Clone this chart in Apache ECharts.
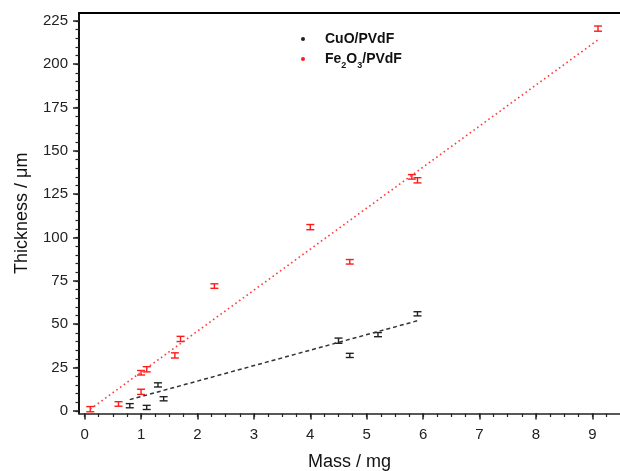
<!DOCTYPE html>
<html>
<head>
<meta charset="utf-8">
<script src="https://cdn.jsdelivr.net/npm/echarts@6/dist/echarts.min.js"></script>
<style>
    html, body { margin: 0; padding: 0; background: #fff; }
    #chart { width: 620px; height: 471px; }
</style>
</head>
<body>
<div id="chart"></div>
<script>
// Data (mass in mg, thickness in um, error = half bar height)
const cuoMass  = [0.8, 1.1, 1.3, 1.4, 4.5, 4.7, 5.2, 5.9];
const cuoThick = [3, 2, 15, 7, 40.5, 32, 44, 56];
const cuoErr   = [1.2, 1.2, 1.2, 1.2, 1.5, 1.2, 1.2, 1.2];

const feMass  = [0.1, 0.6, 1.0, 1.1, 1.0, 1.6, 1.7, 2.3, 4.0, 4.7, 5.8, 5.9, 9.1];
const feThick = [1, 4, 22, 24, 11, 32, 41.5, 72, 106, 86, 135, 133, 220.5];
const feErr   = [1.5, 1.3, 1.3, 1.5, 1.5, 1.5, 1.5, 1.3, 1.5, 1.3, 1.3, 1.5, 1.5];

// Linear fit lines, end points as drawn
const cuoFit = [[0.8, 6.5], [5.9, 52]];
const feFit  = [[0.1, 1], [9.1, 214]];

// Tick labels
const xTicks = [0, 1, 2, 3, 4, 5, 6, 7, 8, 9];
const yTicks = [0, 25, 50, 75, 100, 125, 150, 175, 200, 225];

const X_MIN = -0.1, X_MAX = 9.49;
const Y_MIN = -1.5, Y_MAX = 229.5;

// minor tick positions (axis decoration only)
const xMinor = [];
for (let i = 0; i * 0.25 <= X_MAX; i++) xMinor.push(i * 0.25);
const yMinor = [];
for (let v = 0; v <= 225; v += 5) yMinor.push(v);

const FONT = '"Liberation Sans", Arial, sans-serif';

function errorBar(params, api) {
    const x = api.value(0), y = api.value(1), e = api.value(2);
    const hi = api.coord([x, y + e]);
    const lo = api.coord([x, y - e]);
    const w = 4;
    const style = { stroke: api.visual('color'), lineWidth: 1.4 };
    return {
        type: 'group',
        children: [
            { type: 'line', shape: { x1: hi[0], y1: hi[1], x2: lo[0], y2: lo[1] }, style: style },
            { type: 'line', shape: { x1: hi[0] - w, y1: hi[1], x2: hi[0] + w, y2: hi[1] }, style: style },
            { type: 'line', shape: { x1: lo[0] - w, y1: lo[1], x2: lo[0] + w, y2: lo[1] }, style: style }
        ]
    };
}

const chart = echarts.init(document.getElementById('chart'), null, { renderer: 'canvas' });

const baseX = { type: 'value', min: X_MIN, max: X_MAX, gridIndex: 0, splitLine: { show: false } };
const baseY = { type: 'value', min: Y_MIN, max: Y_MAX, gridIndex: 0, splitLine: { show: false } };

chart.setOption({
    animation: false,
    backgroundColor: '#fff',
    grid: { left: 79, right: 0, top: 13, bottom: 57.5, containLabel: false, outerBoundsMode: 'none' },
    legend: {
        orient: 'vertical',
        left: 296,
        top: 27,
        itemWidth: 34,
        itemHeight: 4,
        itemGap: 6,
        data: [
            { name: 'CuO/PVdF', icon: 'circle' },
            { name: 'Fe2O3/PVdF', icon: 'circle' }
        ],
        formatter: function (name) {
            return name === 'Fe2O3/PVdF' ? 'Fe{s|2}O{s|3}/PVdF' : name;
        },
        textStyle: {
            fontFamily: FONT, fontSize: 14, fontWeight: 'bold', color: '#111',
            rich: { s: { fontFamily: FONT, fontSize: 9, fontWeight: 'bold', color: '#111', verticalAlign: 'bottom', lineHeight: 22 } }
        }
    },
    xAxis: [
        Object.assign({}, baseX, {
            position: 'bottom',
            name: 'Mass / mg', nameLocation: 'middle', nameGap: 40,
            nameTextStyle: { fontFamily: FONT, fontSize: 18, color: '#111' },
            axisLine: { onZero: false, lineStyle: { color: '#222', width: 1.5 } },
            axisTick: { show: true, inside: false, length: 6, customValues: xTicks, lineStyle: { color: '#222', width: 1.5 } },
            axisLabel: { customValues: xTicks, margin: 14, fontFamily: FONT, fontSize: 15, color: '#222' }
        }),
        Object.assign({}, baseX, {
            position: 'bottom',
            axisLine: { show: false, onZero: false },
            axisTick: { show: true, inside: false, length: 3.5, customValues: xMinor, lineStyle: { color: '#222', width: 1.2 } },
            axisLabel: { show: false }
        }),
        Object.assign({}, baseX, {
            position: 'top',
            axisLine: { onZero: false, lineStyle: { color: '#000', width: 2 } },
            axisTick: { show: false },
            axisLabel: { show: false }
        })
    ],
    yAxis: [
        Object.assign({}, baseY, {
            position: 'left',
            name: 'Thickness / \u03bcm', nameLocation: 'middle', nameGap: 48, nameRotate: 90,
            nameTextStyle: { fontFamily: FONT, fontSize: 18, color: '#111' },
            axisLine: { onZero: false, lineStyle: { color: '#111', width: 2 } },
            axisTick: { show: true, inside: false, length: 6, customValues: yTicks, lineStyle: { color: '#222', width: 1.5 } },
            axisLabel: { customValues: yTicks, margin: 11, fontFamily: FONT, fontSize: 15, color: '#222' }
        }),
        Object.assign({}, baseY, {
            position: 'left',
            axisLine: { show: false, onZero: false },
            axisTick: { show: true, inside: false, length: 3.5, customValues: yMinor, lineStyle: { color: '#222', width: 1.2 } },
            axisLabel: { show: false }
        })
    ],
    series: [
        {
            name: 'CuO fit', type: 'line', xAxisIndex: 0, yAxisIndex: 0,
            data: cuoFit, showSymbol: false, symbol: 'none', silent: true,
            lineStyle: { color: '#333', width: 1.5, type: [4, 3] }
        },
        {
            name: 'Fe2O3 fit', type: 'line', xAxisIndex: 0, yAxisIndex: 0,
            data: feFit, showSymbol: false, symbol: 'none', silent: true,
            lineStyle: { color: '#ff3b3b', width: 1.6, type: [1.6, 3] }
        },
        {
            name: 'CuO/PVdF', type: 'custom', xAxisIndex: 0, yAxisIndex: 0,
            itemStyle: { color: '#222' },
            encode: { x: 0, y: 1 },
            renderItem: errorBar,
            data: cuoMass.map((m, i) => [m, cuoThick[i], cuoErr[i]])
        },
        {
            name: 'Fe2O3/PVdF', type: 'custom', xAxisIndex: 0, yAxisIndex: 0,
            itemStyle: { color: '#ff1a1a' },
            encode: { x: 0, y: 1 },
            renderItem: errorBar,
            data: feMass.map((m, i) => [m, feThick[i], feErr[i]])
        }
    ]
});
</script>
</body>
</html>
